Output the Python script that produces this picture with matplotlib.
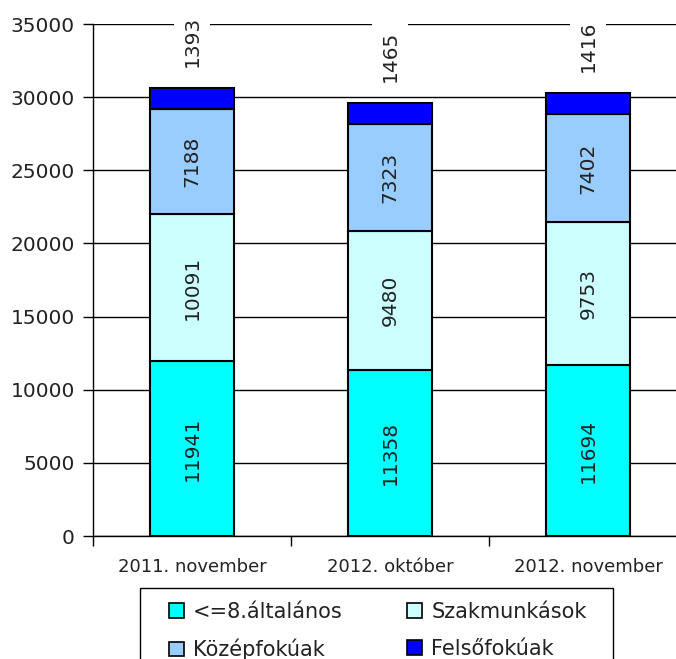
import matplotlib
matplotlib.use("Agg")
import matplotlib.pyplot as plt
from matplotlib.patches import Patch, Rectangle
import numpy as np

categories = ["2011. november", "2012. október", "2012. november"]
series_names = ["<=8.általános", "Szakmunkások", "Középfokúak", "Felsőfokúak"]
alt8 = [11941, 11358, 11694]
szakm = [10091, 9480, 9753]
kozep = [7188, 7323, 7402]
felso = [1393, 1465, 1416]
colors = ["#00FFFF", "#CCFFFF", "#99CCFF", "#0000FF"]
yticks = [0, 5000, 10000, 15000, 20000, 25000, 30000, 35000]

plt.rcParams['font.family'] = ['DejaVu Sans']
W, H = 676, 659
fig = plt.figure(figsize=(W/100, H/100), dpi=100)
ax = fig.add_axes([93/W, 1-536/H, 594/W, 512/H])

x = np.arange(len(categories))
width = 0.42
bottom = np.zeros(len(categories))
series = [alt8, szakm, kozep, felso]
for i, (vals, col, name) in enumerate(zip(series, colors, series_names)):
    vals = np.array(vals, dtype=float)
    ax.bar(x, vals, width, bottom=bottom, color=col, edgecolor="black",
           linewidth=1.5, label=name, zorder=3)
    for xi, v, b in zip(x, vals, bottom):
        if i < 3:
            ax.text(xi, b + v/2, f"{int(v)}", rotation=90, ha="center", va="center",
                    fontsize=14.5, color="#222222", zorder=4)
        else:
            ax.annotate(f"{int(v)}", (xi, b + v), xytext=(0, 15), textcoords="offset points",
                        rotation=90, ha="center", va="bottom", fontsize=14.5, color="#222222",
                        zorder=4, bbox=dict(facecolor="white", edgecolor="none", pad=6))
    bottom += vals

ax.set_ylim(0, 35000)
ax.set_xlim(-0.5, 2.5)
ax.set_yticks(yticks)
ax.set_yticklabels([str(t) for t in yticks])
ax.yaxis.grid(True, color="#000000", linewidth=1.0, zorder=0)
ax.set_axisbelow(True)
ax.set_xticks(x)
ax.set_xticklabels(categories)
ax.set_xticks([-0.5, 0.5, 1.5, 2.5], minor=True)
ax.tick_params(axis="x", which="major", length=0, pad=16, labelsize=13, colors="#222222")
ax.tick_params(axis="x", which="minor", length=7, width=1, direction="out")
ax.tick_params(axis="y", length=7, width=1, direction="out", pad=6, labelsize=14.5, labelcolor="#222222")
for s in ["top", "right"]:
    ax.spines[s].set_visible(False)
ax.spines["left"].set_linewidth(1)
ax.spines["bottom"].set_linewidth(1)

# legend frame drawn separately (box extends past the bottom edge)
fig.patches.append(Rectangle((140/W, -0.05), (613-140)/W, 0.05 + (1-588/H),
                             transform=fig.transFigure, facecolor="white",
                             edgecolor="black", linewidth=1.0, zorder=1))

# row-major legend order: row1 = <=8, Szakm ; row2 = Közép, Felső
order = [0, 2, 1, 3]
handles = [Patch(facecolor=colors[k], edgecolor="black", linewidth=1.2) for k in order]
labels = [series_names[k] for k in order]
leg = fig.legend(handles, labels, loc="upper left", bbox_to_anchor=(169/W, 1-602/H),
                 ncol=2, fontsize=15, frameon=False,
                 handlelength=0.7, handleheight=0.7, handletextpad=0.45, columnspacing=3.1,
                 labelspacing=0.8, borderpad=0.0, borderaxespad=0.0)
leg.set_zorder(5)
for t in leg.get_texts():
    t.set_color("#222222")

fig.savefig("out.png", dpi=100)
